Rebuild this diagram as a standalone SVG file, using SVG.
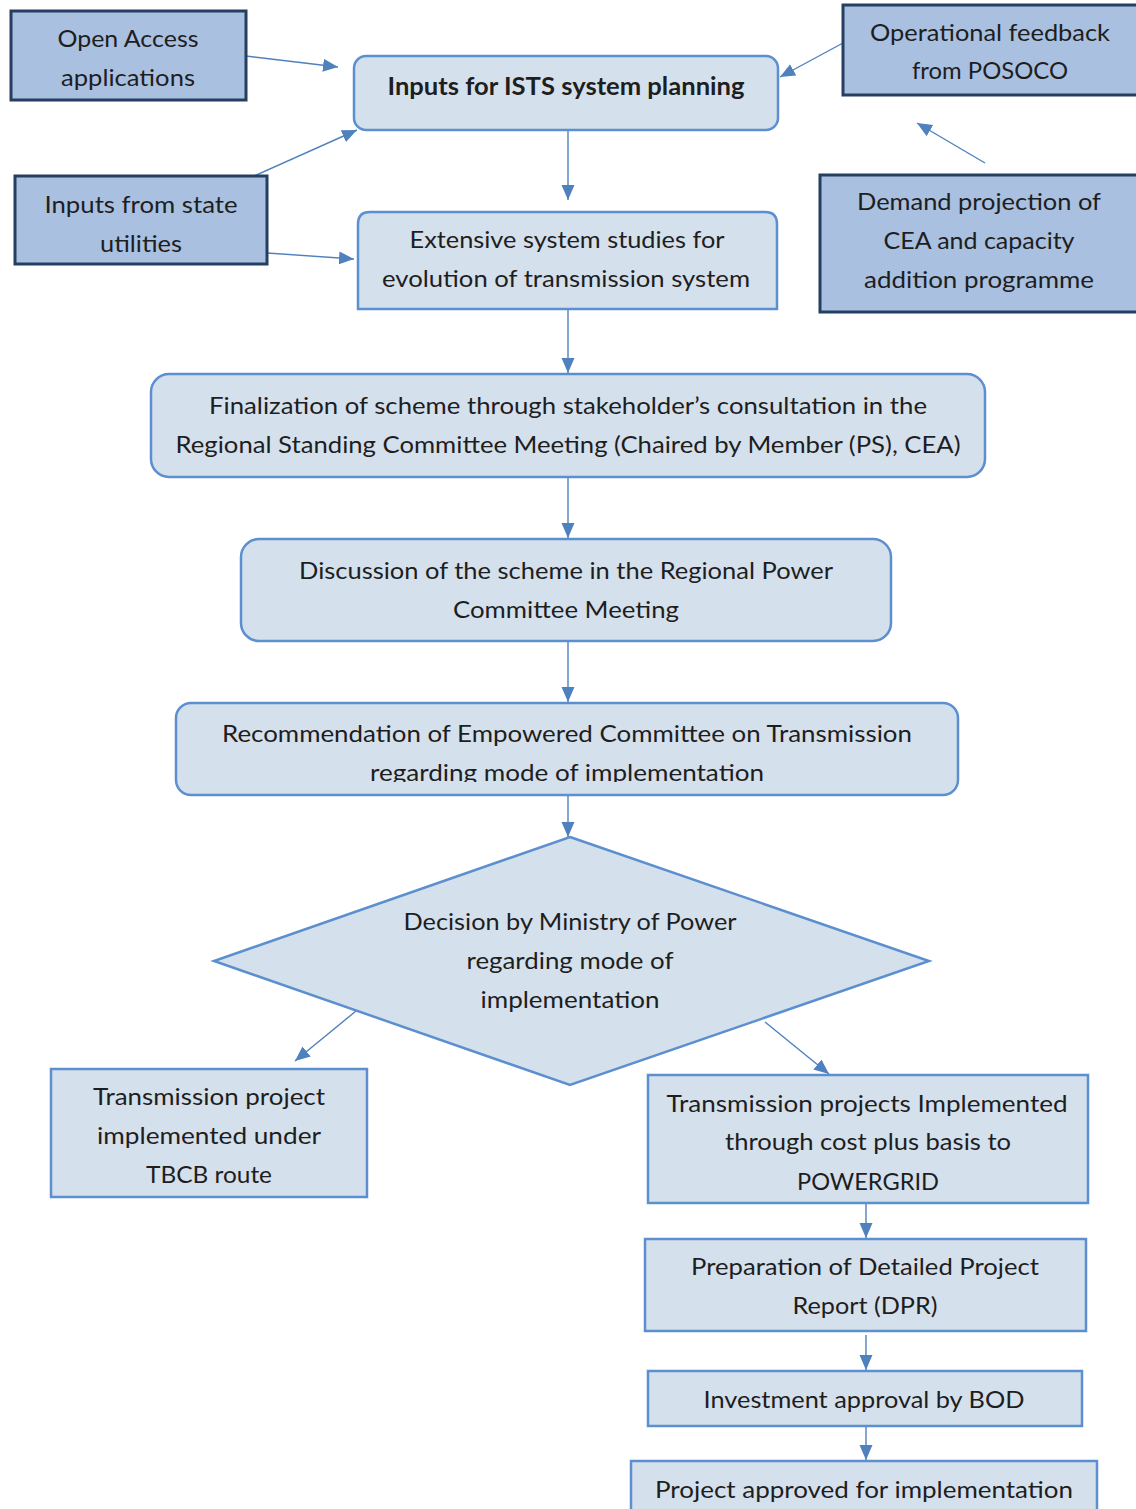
<svg xmlns="http://www.w3.org/2000/svg" width="1136" height="1509" viewBox="0 0 1136 1509">
<style>
.dark{fill:#a9c0e0;stroke:#243f60;stroke-width:3}
.light{fill:#d5e0ed;stroke:#5b8fcf;stroke-width:2.5}
.t{font-family:Lato,"Open Sans","Liberation Sans",sans-serif;font-size:24px;fill:#1e1e1e;text-anchor:middle}
.b{font-weight:bold}
.c{stroke:#4f81bd;stroke-width:1.4;fill:none}
</style>
<defs>
<marker id="ah" markerUnits="userSpaceOnUse" markerWidth="16" markerHeight="14" refX="15" refY="6.5" orient="auto">
<path d="M0,0 L15,6.5 L0,13 Z" fill="#4f81bd"/>
</marker>
<clipPath id="rclip"><rect x="170" y="700" width="800" height="82"/></clipPath>
</defs>
<rect width="1136" height="1509" fill="#ffffff"/>

<g id="connectors">
<line class="c" x1="246" y1="56" x2="338" y2="67" marker-end="url(#ah)"/>
<line class="c" x1="254" y1="176" x2="357" y2="130" marker-end="url(#ah)"/>
<line class="c" x1="267" y1="253" x2="354" y2="259" marker-end="url(#ah)"/>
<line class="c" x1="843" y1="43" x2="780" y2="77" marker-end="url(#ah)"/>
<line class="c" x1="985" y1="163" x2="917" y2="123" marker-end="url(#ah)"/>
<line class="c" x1="568" y1="131" x2="568" y2="200" marker-end="url(#ah)"/>
<line class="c" x1="568" y1="310" x2="568" y2="373" marker-end="url(#ah)"/>
<line class="c" x1="568" y1="478" x2="568" y2="538" marker-end="url(#ah)"/>
<line class="c" x1="568" y1="642" x2="568" y2="702" marker-end="url(#ah)"/>
<line class="c" x1="568" y1="796" x2="568" y2="837" marker-end="url(#ah)"/>
<line class="c" x1="356" y1="1011" x2="295" y2="1061" marker-end="url(#ah)"/>
<line class="c" x1="765" y1="1022" x2="829" y2="1074" marker-end="url(#ah)"/>
<line class="c" x1="866" y1="1204" x2="866" y2="1238" marker-end="url(#ah)"/>
<line class="c" x1="866" y1="1335" x2="866" y2="1370" marker-end="url(#ah)"/>
<line class="c" x1="866" y1="1427" x2="866" y2="1460" marker-end="url(#ah)"/>
</g>

<g id="open-access">
<rect class="dark" x="11" y="11" width="235" height="89"/>
<text class="t" x="128" y="47" textLength="141" lengthAdjust="spacingAndGlyphs">Open Access</text>
<text class="t" x="128" y="86" textLength="134" lengthAdjust="spacingAndGlyphs">applications</text>
</g>

<g id="inputs-ists">
<rect class="light" x="354" y="56" width="424" height="74" rx="12"/>
<text class="t b" x="566" y="95" textLength="357" lengthAdjust="spacingAndGlyphs">Inputs for ISTS system planning</text>
</g>

<g id="posoco">
<rect class="dark" x="843" y="5" width="300" height="90"/>
<text class="t" x="990" y="41" textLength="240" lengthAdjust="spacingAndGlyphs">Operational feedback</text>
<text class="t" x="990" y="79" textLength="156" lengthAdjust="spacingAndGlyphs">from POSOCO</text>
</g>

<g id="state-utilities">
<rect class="dark" x="15" y="176" width="252" height="88"/>
<text class="t" x="141" y="213" textLength="193" lengthAdjust="spacingAndGlyphs">Inputs from state</text>
<text class="t" x="141" y="252" textLength="82" lengthAdjust="spacingAndGlyphs">utilities</text>
</g>

<g id="system-studies">
<path class="light" d="M358,309 V224 Q358,212 370,212 H765 Q777,212 777,224 V309 Z"/>
<text class="t" x="567" y="248" textLength="315" lengthAdjust="spacingAndGlyphs">Extensive system studies for</text>
<text class="t" x="566" y="287" textLength="368" lengthAdjust="spacingAndGlyphs">evolution of transmission system</text>
</g>

<g id="demand">
<rect class="dark" x="820" y="175" width="320" height="137"/>
<text class="t" x="979" y="210" textLength="244" lengthAdjust="spacingAndGlyphs">Demand projection of</text>
<text class="t" x="979" y="249" textLength="191" lengthAdjust="spacingAndGlyphs">CEA and capacity</text>
<text class="t" x="979" y="288" textLength="230" lengthAdjust="spacingAndGlyphs">addition programme</text>
</g>

<g id="finalization">
<rect class="light" x="151" y="374" width="834" height="103" rx="18"/>
<text class="t" x="568" y="414" textLength="718" lengthAdjust="spacingAndGlyphs">Finalization of scheme through stakeholder’s consultation in the</text>
<text class="t" x="568" y="453" textLength="785" lengthAdjust="spacingAndGlyphs">Regional Standing Committee Meeting (Chaired by Member (PS), CEA)</text>
</g>

<g id="discussion">
<rect class="light" x="241" y="539" width="650" height="102" rx="18"/>
<text class="t" x="566" y="579" textLength="534" lengthAdjust="spacingAndGlyphs">Discussion of the scheme in the Regional Power</text>
<text class="t" x="566" y="618" textLength="226" lengthAdjust="spacingAndGlyphs">Committee Meeting</text>
</g>

<g id="recommendation">
<rect class="light" x="176" y="703" width="782" height="92" rx="15"/>
<text class="t" x="567" y="742" textLength="690" lengthAdjust="spacingAndGlyphs">Recommendation of Empowered Committee on Transmission</text>
<text class="t" x="567" y="781" textLength="394" lengthAdjust="spacingAndGlyphs" clip-path="url(#rclip)">regarding mode of implementation</text>
</g>

<g id="decision">
<polygon class="light" points="570,837 929,961 570,1085 214,961"/>
<text class="t" x="570" y="930" textLength="333" lengthAdjust="spacingAndGlyphs">Decision by Ministry of Power</text>
<text class="t" x="570" y="969" textLength="207" lengthAdjust="spacingAndGlyphs">regarding mode of</text>
<text class="t" x="570" y="1008" textLength="179" lengthAdjust="spacingAndGlyphs">implementation</text>
</g>

<g id="tbcb">
<rect class="light" x="51" y="1069" width="316" height="128"/>
<text class="t" x="209" y="1105" textLength="232" lengthAdjust="spacingAndGlyphs">Transmission project</text>
<text class="t" x="209" y="1144" textLength="224" lengthAdjust="spacingAndGlyphs">implemented under</text>
<text class="t" x="209" y="1183" textLength="126" lengthAdjust="spacingAndGlyphs">TBCB route</text>
</g>

<g id="cost-plus">
<rect class="light" x="648" y="1075" width="440" height="128"/>
<text class="t" x="867" y="1112" textLength="401" lengthAdjust="spacingAndGlyphs">Transmission projects Implemented</text>
<text class="t" x="868" y="1150" textLength="286" lengthAdjust="spacingAndGlyphs">through cost plus basis to</text>
<text class="t" x="868" y="1190" textLength="142" lengthAdjust="spacingAndGlyphs">POWERGRID</text>
</g>

<g id="dpr">
<rect class="light" x="645" y="1239" width="441" height="92"/>
<text class="t" x="865" y="1275" textLength="348" lengthAdjust="spacingAndGlyphs">Preparation of Detailed Project</text>
<text class="t" x="865" y="1314" textLength="145" lengthAdjust="spacingAndGlyphs">Report (DPR)</text>
</g>

<g id="bod">
<rect class="light" x="648" y="1371" width="434" height="55"/>
<text class="t" x="864" y="1408" textLength="321" lengthAdjust="spacingAndGlyphs">Investment approval by BOD</text>
</g>

<g id="approved">
<rect class="light" x="631" y="1461" width="466" height="60"/>
<text class="t" x="864" y="1498" textLength="418" lengthAdjust="spacingAndGlyphs">Project approved for implementation</text>
</g>
</svg>
